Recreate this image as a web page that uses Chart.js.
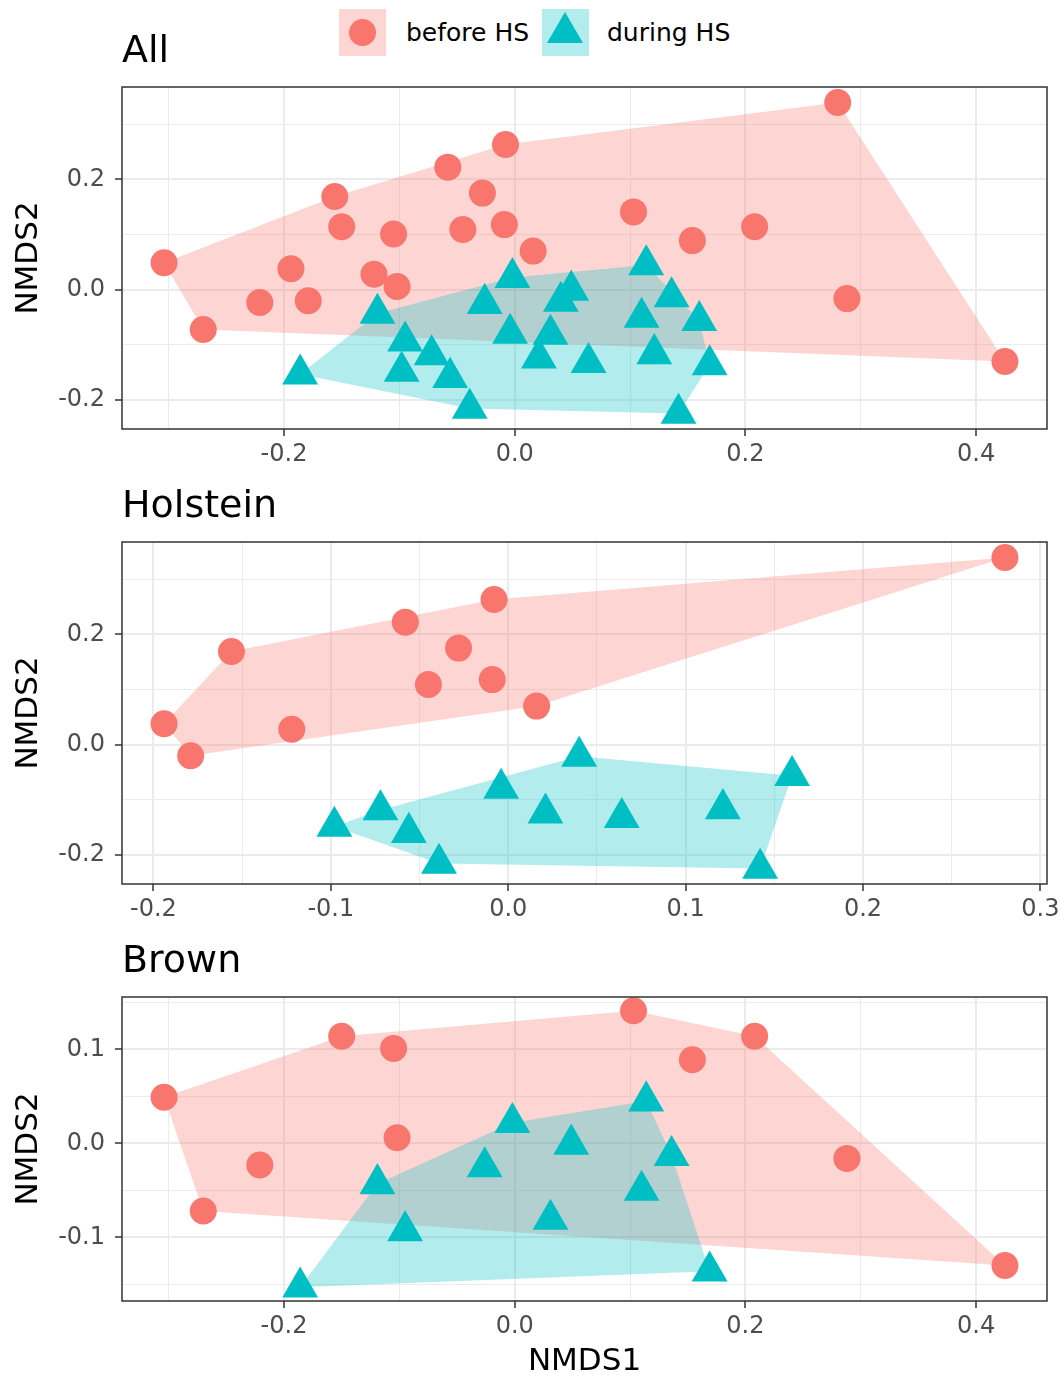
<!DOCTYPE html>
<html>
<head>
<meta charset="utf-8">
<script src="https://cdn.jsdelivr.net/npm/chart.js@4.4.1/dist/chart.umd.min.js"></script>
<style>
body { margin: 0; background: #fff; font-family: "DejaVu Sans", sans-serif; }
#page { position: relative; width: 1060px; height: 1376px; overflow: hidden; }
.panel { position: absolute; left: 0; }
.ptitle { position: absolute; left: 122px; font-size: 38px; line-height: 38px; color: #000; white-space: nowrap; }
.key { position: absolute; top: 9px; width: 47px; height: 47px; }
.dot { position: absolute; left: 10px; top: 10px; width: 27px; height: 27px; border-radius: 50%; background: #F8766D; }
.tri { position: absolute; left: 5px; top: 3px; width: 0; height: 0; border-left: 18.5px solid transparent; border-right: 18.5px solid transparent; border-bottom: 31px solid #00BFC4; }
.ltxt { position: absolute; top: 20px; font-size: 25px; line-height: 25px; color: #000; white-space: nowrap; }
</style>
</head>
<body>
<div id="page">
  <div class="key" style="left:339px;background:rgba(248,118,109,0.3)"><div class="dot"></div></div>
  <div class="ltxt" style="left:406px">before HS</div>
  <div class="key" style="left:542px;background:rgba(0,191,196,0.3)"><div class="tri"></div></div>
  <div class="ltxt" style="left:607px">during HS</div>

  <div class="panel" style="top:70px"><canvas id="pAll" width="1060" height="420"></canvas></div>
  <div class="panel" style="top:525px"><canvas id="pHol" width="1060" height="420"></canvas></div>
  <div class="panel" style="top:980px"><canvas id="pBrown" width="1060" height="396"></canvas></div>

  <div class="ptitle" style="top:30px">All</div>
  <div class="ptitle" style="top:485px">Holstein</div>
  <div class="ptitle" style="top:940px">Brown</div>
</div>
<script>
// NMDS scores [NMDS1, NMDS2]
var holsteinBefore = [
  [-0.194, 0.038], [-0.179, -0.020], [-0.156, 0.169], [-0.122, 0.028],
  [-0.058, 0.222], [-0.045, 0.109], [-0.028, 0.175], [-0.008, 0.263],
  [-0.009, 0.118], [0.016, 0.070], [0.280, 0.339]
];
var holsteinDuring = [
  [-0.098, -0.148], [-0.072, -0.118], [-0.056, -0.159], [-0.039, -0.215],
  [-0.004, -0.079], [0.021, -0.124], [0.040, -0.021], [0.064, -0.132],
  [0.121, -0.116], [0.160, -0.056], [0.142, -0.224]
];
var brownBefore = [
  [-0.304, 0.049], [-0.270, -0.072], [-0.221, -0.023], [-0.150, 0.114],
  [-0.105, 0.101], [-0.102, 0.006], [0.103, 0.141], [0.154, 0.089],
  [0.208, 0.114], [0.288, -0.016], [0.425, -0.130]
];
var brownDuring = [
  [-0.186, -0.153], [-0.119, -0.043], [-0.095, -0.093], [-0.026, -0.025],
  [-0.002, 0.022], [0.031, -0.081], [0.049, -0.001], [0.114, 0.045],
  [0.136, -0.013], [0.110, -0.050], [0.169, -0.136]
];
var allBefore = holsteinBefore.concat(brownBefore);
var allDuring = holsteinDuring.concat(brownDuring);

// tick positions (major = labelled, minor = grid only)
var allXMajor = [-0.2, 0.0, 0.2, 0.4];
var allXMinor = [-0.3, -0.1, 0.1, 0.3];
var allYMajor = [-0.2, 0.0, 0.2];
var allYMinor = [-0.1, 0.1, 0.3];
var holXMajor = [-0.2, -0.1, 0.0, 0.1, 0.2, 0.3];
var holXMinor = [-0.15, -0.05, 0.05, 0.15, 0.25];
var brownYMajor = [-0.1, 0.0, 0.1];
var brownYMinor = [-0.15, -0.05, 0.05, 0.15];

var FONT = "'DejaVu Sans', sans-serif";
var RED = '#F8766D', TEAL = '#00BFC4';

function hull(points) {
  var p = points.slice().sort(function(a, b) { return a[0] - b[0] || a[1] - b[1]; });
  function cross(o, a, b) { return (a[0] - o[0]) * (b[1] - o[1]) - (a[1] - o[1]) * (b[0] - o[0]); }
  var lower = [], upper = [];
  p.forEach(function(q) {
    while (lower.length >= 2 && cross(lower[lower.length - 2], lower[lower.length - 1], q) <= 0) lower.pop();
    lower.push(q);
  });
  for (var i = p.length - 1; i >= 0; i--) {
    var q = p[i];
    while (upper.length >= 2 && cross(upper[upper.length - 2], upper[upper.length - 1], q) <= 0) upper.pop();
    upper.push(q);
  }
  upper.pop(); lower.pop();
  return lower.concat(upper);
}

function expand(vals) {
  var mn = Math.min.apply(null, vals), mx = Math.max.apply(null, vals);
  var d = (mx - mn) * 0.05;
  return [mn - d, mx + d];
}

var hullPlugin = {
  id: 'hulls',
  beforeDatasetsDraw: function(chart) {
    var ctx = chart.ctx, xs = chart.scales.x, ys = chart.scales.y, a = chart.chartArea;
    ctx.save();
    ctx.beginPath();
    ctx.rect(a.left, a.top, a.right - a.left, a.bottom - a.top);
    ctx.clip();
    // before HS first, during HS over it
    [1, 0].forEach(function(i) {
      var ds = chart.data.datasets[i];
      var h = hull(ds.data.map(function(d) { return [d.x, d.y]; }));
      ctx.beginPath();
      h.forEach(function(p, k) {
        var px = xs.getPixelForValue(p[0]), py = ys.getPixelForValue(p[1]);
        if (k) ctx.lineTo(px, py); else ctx.moveTo(px, py);
      });
      ctx.closePath();
      ctx.fillStyle = ds.hullColor;
      ctx.fill();
    });
    ctx.restore();
  },
  afterDatasetsDraw: function(chart) {
    var ctx = chart.ctx, a = chart.chartArea;
    ctx.save();
    ctx.strokeStyle = '#333333';
    ctx.lineWidth = 1.5;
    ctx.strokeRect(a.left, a.top, a.right - a.left, a.bottom - a.top);
    ctx.restore();
  }
};

function axis(major, minor, range, isX, size, title) {
  var all = major.concat(minor).sort(function(a, b) { return a - b; });
  function isMajor(c) { return c.tick && major.indexOf(c.tick.value) >= 0; }
  return {
    type: 'linear',
    min: range[0],
    max: range[1],
    afterBuildTicks: function(s) {
      s.ticks = all.map(function(v) { return { value: v }; });
    },
    afterFit: function(s) {
      if (isX) { s.height = size; s.paddingLeft = 0; s.paddingRight = 0; }
      else { s.width = size; s.paddingTop = 0; s.paddingBottom = 0; }
    },
    ticks: {
      autoSkip: false,
      maxRotation: 0,
      padding: isX ? 4 : 10,
      color: '#4D4D4D',
      font: { family: FONT, size: 24 },
      callback: function(v) { return major.indexOf(v) >= 0 ? v.toFixed(1) : ''; }
    },
    grid: {
      color: '#EBEBEB',
      lineWidth: function(c) { return isMajor(c) ? 2 : 1; },
      tickColor: function(c) { return isMajor(c) ? '#333333' : 'rgba(0,0,0,0)'; },
      tickWidth: 1.5,
      tickLength: 7
    },
    border: { display: false },
    title: {
      display: !!title,
      text: title,
      color: '#000',
      font: { family: FONT, size: 31, lineHeight: isX ? 0.9 : 1 },
      padding: isX ? { top: 0, bottom: 0 } : { top: 13, bottom: 0 }
    }
  };
}

function toXY(arr) { return arr.map(function(p) { return { x: p[0], y: p[1] }; }); }

function makePanel(id, before, during, xMajor, xMinor, yMajor, yMinor, xAxisH, xTitle) {
  var xs = before.concat(during).map(function(p) { return p[0]; });
  var ys = before.concat(during).map(function(p) { return p[1]; });
  new Chart(document.getElementById(id), {
    type: 'scatter',
    data: {
      datasets: [{
        label: 'during HS',
        data: toXY(during),
        pointStyle: 'triangle',
        pointRadius: 20.7,
        pointHoverRadius: 20.7,
        pointBackgroundColor: TEAL,
        pointBorderWidth: 0,
        hullColor: 'rgba(0,191,196,0.3)'
      }, {
        label: 'before HS',
        data: toXY(before),
        pointStyle: 'circle',
        pointRadius: 13.5,
        pointHoverRadius: 13.5,
        pointBackgroundColor: RED,
        pointBorderWidth: 0,
        hullColor: 'rgba(248,118,109,0.3)'
      }]
    },
    options: {
      responsive: false,
      animation: false,
      events: [],
      layout: { autoPadding: false, padding: { top: 17, right: 13, bottom: 0, left: 0 } },
      plugins: { legend: { display: false }, tooltip: { enabled: false } },
      scales: {
        x: axis(xMajor, xMinor, expand(xs), true, xAxisH, xTitle),
        y: axis(yMajor, yMinor, expand(ys), false, 122, 'NMDS2')
      }
    },
    plugins: [hullPlugin]
  });
}

makePanel('pAll', allBefore, allDuring, allXMajor, allXMinor, allYMajor, allYMinor, 61, '');
makePanel('pHol', holsteinBefore, holsteinDuring, holXMajor, holXMinor, allYMajor, allYMinor, 61, '');
makePanel('pBrown', brownBefore, brownDuring, allXMajor, allXMinor, brownYMajor, brownYMinor, 75, 'NMDS1');
</script>
</body>
</html>
